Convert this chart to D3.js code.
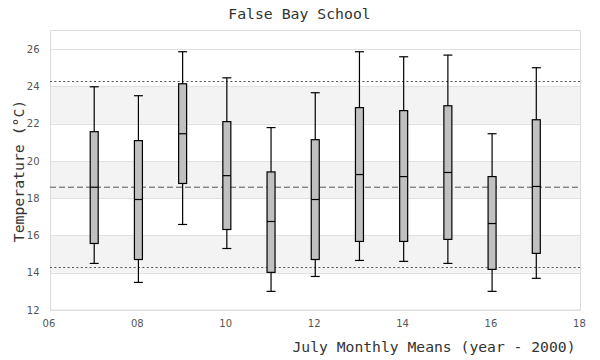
<!DOCTYPE html>
<html>
<head>
<meta charset="utf-8">
<script src="https://cdn.jsdelivr.net/npm/d3@7"></script>
<style>
  html, body { margin: 0; padding: 0; background: #fff; }
  svg { display: block; }
</style>
</head>
<body>
<svg id="chart" width="600" height="360"></svg>
<script>
// ---- data ----
const years = [7, 8, 9, 10, 11, 12, 13, 14, 15, 16, 17];
const whiskerLow  = [14.50, 13.48, 16.59, 15.30, 13.00, 13.80, 14.66, 14.61, 14.50, 13.00, 13.70];
const q1          = [15.57, 14.71, 18.79, 16.32, 14.02, 14.71, 15.68, 15.68, 15.79, 14.18, 15.04];
const median      = [18.59, 17.93, 21.46, 19.21, 16.75, 17.93, 19.27, 19.16, 19.38, 16.64, 18.63];
const q3          = [21.57, 21.09, 24.14, 22.11, 19.41, 21.14, 22.86, 22.70, 22.96, 19.16, 22.21];
const whiskerHigh = [23.98, 23.50, 25.86, 24.46, 21.79, 23.66, 25.86, 25.59, 25.68, 21.46, 25.00];
const overallMean = 18.59;
const upperLimit = 24.30;
const lowerLimit = 14.29;
const xTicks = [6, 8, 10, 12, 14, 16, 18];
const yTicks = [12, 14, 16, 18, 20, 22, 24, 26];
const bands = [[14, 16], [18, 20], [22, 24]];
const titleText = "False Bay School";
const xLabel = "July Monthly Means (year - 2000)";
const yLabel = "Temperature (°C)";

// ---- layout ----
const svg = d3.select("#chart");
const L = 50, R = 580.5, T = 30.5, B = 310;
const x = d3.scaleLinear().domain([6, 18]).range([L, R]);
const y = d3.scaleLinear().domain([12, 27]).range([B, T]);

const rows = years.map((yr, i) => ({
  yr, lo: whiskerLow[i], q1: q1[i], med: median[i], q3: q3[i], hi: whiskerHigh[i]
}));

// bands
svg.append("g").selectAll("rect").data(bands).join("rect")
  .attr("x", L).attr("width", R - L)
  .attr("y", d => y(d[1])).attr("height", d => y(d[0]) - y(d[1]))
  .attr("fill", "#f3f3f3");

// gridlines
svg.append("g").selectAll("line").data(yTicks).join("line")
  .attr("x1", L).attr("x2", R)
  .attr("y1", d => Math.round(y(d)) + 0.5).attr("y2", d => Math.round(y(d)) + 0.5)
  .attr("stroke", "#e0e0e0").attr("stroke-width", 1);

// border
svg.append("rect")
  .attr("x", L + 0.5).attr("y", T).attr("width", R - L - 0.5).attr("height", B - T)
  .attr("fill", "none").attr("stroke", "#dcdcdc").attr("stroke-width", 1);

// reference lines
svg.append("line")
  .attr("x1", L).attr("x2", R)
  .attr("y1", y(overallMean)).attr("y2", y(overallMean))
  .attr("stroke", "#555").attr("stroke-width", 1).attr("stroke-dasharray", "6,3");
[upperLimit, lowerLimit].forEach(v => {
  svg.append("line")
    .attr("x1", L).attr("x2", R)
    .attr("y1", Math.round(y(v)) + 0.5).attr("y2", Math.round(y(v)) + 0.5)
    .attr("stroke", "#555").attr("stroke-width", 1).attr("stroke-dasharray", "2,2.4");
});

// boxes
const bw = 8, cw = 9;
const g = svg.append("g").selectAll("g").data(rows).join("g");
g.append("line")
  .attr("x1", d => x(d.yr)).attr("x2", d => x(d.yr))
  .attr("y1", d => y(d.hi)).attr("y2", d => y(d.lo))
  .attr("stroke", "#000").attr("stroke-width", 1.2);
g.append("line")
  .attr("x1", d => x(d.yr) - cw / 2).attr("x2", d => x(d.yr) + cw / 2)
  .attr("y1", d => y(d.hi)).attr("y2", d => y(d.hi))
  .attr("stroke", "#000").attr("stroke-width", 1.2);
g.append("line")
  .attr("x1", d => x(d.yr) - cw / 2).attr("x2", d => x(d.yr) + cw / 2)
  .attr("y1", d => y(d.lo)).attr("y2", d => y(d.lo))
  .attr("stroke", "#000").attr("stroke-width", 1.2);
g.append("rect")
  .attr("x", d => x(d.yr) - bw / 2).attr("width", bw)
  .attr("y", d => y(d.q3)).attr("height", d => y(d.q1) - y(d.q3))
  .attr("fill", "#c0c0c0").attr("stroke", "#000").attr("stroke-width", 1.2);
g.append("line")
  .attr("x1", d => x(d.yr) - bw / 2).attr("x2", d => x(d.yr) + bw / 2)
  .attr("y1", d => y(d.med)).attr("y2", d => y(d.med))
  .attr("stroke", "#000").attr("stroke-width", 1.2);

// axes (labels only)
const yAxis = d3.axisLeft(y).tickValues(yTicks).tickSize(0).tickPadding(10.5).tickFormat(d3.format("d"));
const ya = svg.append("g").attr("transform", `translate(${L},0)`).call(yAxis);
ya.select(".domain").remove();
ya.selectAll("text").attr("font-family", "DejaVu Sans").attr("font-size", 10).attr("fill", "#555");

const xAxis = d3.axisBottom(x).tickValues(xTicks).tickSize(0).tickPadding(10).tickFormat(d => String(d).padStart(2, "0"));
const xa = svg.append("g").attr("transform", `translate(-1.6,${B})`).call(xAxis);
xa.select(".domain").remove();
xa.selectAll("text").attr("font-family", "DejaVu Sans").attr("font-size", 10).attr("fill", "#555");

// titles
svg.append("text").attr("x", 299.5).attr("y", 18.5).attr("text-anchor", "middle")
  .attr("font-family", "DejaVu Sans Mono").attr("font-size", 14.8).attr("fill", "#333")
  .text(titleText);
svg.append("text").attr("x", 575.5).attr("y", 352).attr("text-anchor", "end")
  .attr("font-family", "DejaVu Sans Mono").attr("font-size", 14.7).attr("fill", "#333")
  .text(xLabel);
svg.append("text").attr("transform", "translate(24,171) rotate(-90)").attr("text-anchor", "middle")
  .attr("font-family", "DejaVu Sans Mono").attr("font-size", 14.8).attr("fill", "#333")
  .text(yLabel);
</script>
</body>
</html>
